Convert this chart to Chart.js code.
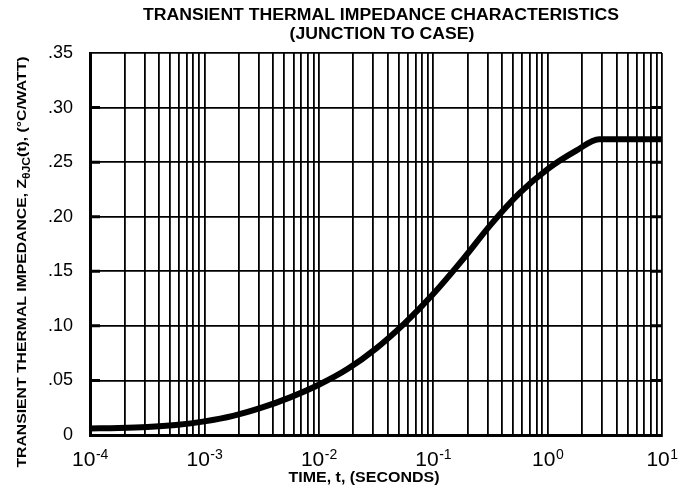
<!DOCTYPE html>
<html>
<head>
<meta charset="utf-8">
<script src="https://cdn.jsdelivr.net/npm/chart.js@4/dist/chart.umd.min.js"></script>
<style>
  html, body { margin: 0; padding: 0; background: #fff; }
  #wrap { width: 686px; height: 494px; position: relative; }
</style>
</head>
<body>
<div id="wrap"><canvas id="c" width="686" height="494"></canvas></div>
<script>
// ---- data ----
const timeSeconds = [1e-4, 1.78e-4, 3.16e-4, 5.62e-4, 1e-3, 1.78e-3, 3.16e-3, 5.62e-3, 1e-2, 1.78e-2, 3.16e-2, 5.62e-2, 0.1, 0.178, 0.316, 0.562, 1, 1.78, 2.82, 10];
const impedance   = [0.0060, 0.0064, 0.0073, 0.0092, 0.0125, 0.0175, 0.0250, 0.0345, 0.0460, 0.0604, 0.0792, 0.1023, 0.1292, 0.1598, 0.1923, 0.2211, 0.2436, 0.2605, 0.2710, 0.2710];
const xDecadeExponents = [-4, -3, -2, -1, 0, 1];
const gridMultipliers = [1, 2, 3, 4, 5, 6, 7, 8, 9];
const yTickValues = [0, 0.05, 0.10, 0.15, 0.20, 0.25, 0.30, 0.35];
const titleLines = ['TRANSIENT THERMAL IMPEDANCE CHARACTERISTICS', '(JUNCTION TO CASE)'];
const xTitle = 'TIME, t, (SECONDS)';
const yTitleParts = ['TRANSIENT THERMAL IMPEDANCE, Z', '\u03B8JC', '(t), (\u00B0C/WATT)'];

const FONT = '"Liberation Sans", Arial, Helvetica, sans-serif';

const points = timeSeconds.map((t, i) => ({ x: t, y: impedance[i] }));

const xGridValues = [];
xDecadeExponents.forEach(e => {
  if (e === xDecadeExponents[xDecadeExponents.length - 1]) { xGridValues.push(Math.pow(10, e)); return; }
  gridMultipliers.forEach(m => xGridValues.push(+(m * Math.pow(10, e)).toPrecision(6)));
});

function fitText(ctx, text, cx, y, font, width) {
  ctx.save();
  ctx.font = font;
  const w = ctx.measureText(text).width;
  const k = width / w;
  ctx.translate(cx, y);
  ctx.scale(k, 1);
  ctx.textAlign = 'center';
  ctx.fillText(text, 0, 0);
  ctx.restore();
  return k;
}

const labelPlugin = {
  id: 'labels',
  afterDatasetsDraw(chart) {
    // short heavy tick stubs at both ends of each horizontal grid line
    const ctx = chart.ctx;
    const ys = chart.scales.y;
    const ca = chart.chartArea;
    ctx.save();
    ctx.strokeStyle = '#000';
    ctx.lineWidth = 3;
    yTickValues.forEach(v => {
      if (v <= 0 || v >= 0.35) return;
      const py = ys.getPixelForValue(v);
      ctx.beginPath();
      ctx.moveTo(ca.left, py); ctx.lineTo(ca.left + 10, py);
      ctx.moveTo(ca.right - 12, py); ctx.lineTo(ca.right, py);
      ctx.stroke();
    });
    ctx.restore();
  },
  afterDraw(chart) {
    const ctx = chart.ctx;
    const xs = chart.scales.x;
    ctx.save();
    ctx.fillStyle = '#000';
    ctx.textBaseline = 'alphabetic';
    // x tick labels with superscript exponents
    xDecadeExponents.forEach(e => {
      const px = xs.getPixelForValue(Math.pow(10, e));
      ctx.font = '21px ' + FONT;
      const base = '10';
      const bw = ctx.measureText(base).width;
      ctx.font = '14px ' + FONT;
      const exp = String(e);
      const ew = ctx.measureText(exp).width;
      const start = px - (bw + ew) / 2;
      ctx.textAlign = 'left';
      ctx.font = '21px ' + FONT;
      ctx.fillText(base, start, 466);
      ctx.font = '14px ' + FONT;
      ctx.fillText(exp, start + bw + 0.5, 459);
    });
    // x axis title
    fitText(ctx, xTitle, 364, 482, 'bold 14px ' + FONT, 151);
    // main title
    ctx.font = 'bold 16px ' + FONT;
    const w1 = ctx.measureText(titleLines[0]).width;
    const k = 476 / w1;
    const w2 = ctx.measureText(titleLines[1]).width * k;
    fitText(ctx, titleLines[0], 381, 20, 'bold 16px ' + FONT, 476);
    fitText(ctx, titleLines[1], 382, 39, 'bold 16px ' + FONT, w2);
    // y axis title (rotated, with subscript)
    ctx.translate(22, 262);
    ctx.rotate(-Math.PI / 2);
    ctx.textAlign = 'left';
    const mainFont = 'bold 13px ' + FONT;
    const subFont = 'bold 10px ' + FONT;
    ctx.font = mainFont;
    const a0 = ctx.measureText(yTitleParts[0]).width;
    const a2 = ctx.measureText(yTitleParts[2]).width;
    ctx.font = subFont;
    const a1 = ctx.measureText(yTitleParts[1]).width;
    const total = a0 + a1 + a2;
    ctx.scale(411 / total, 1);
    const x0 = -total / 2;
    ctx.font = mainFont;
    ctx.fillText(yTitleParts[0], x0, 4);
    ctx.font = subFont;
    ctx.fillText(yTitleParts[1], x0 + a0, 8);
    ctx.font = mainFont;
    ctx.fillText(yTitleParts[2], x0 + a0 + a1, 4);
    ctx.restore();
  }
};

new Chart(document.getElementById('c'), {
  type: 'line',
  data: {
    datasets: [{
      data: points,
      borderColor: '#000',
      borderWidth: 6,
      pointRadius: 0,
      fill: false,
      cubicInterpolationMode: 'monotone',
      borderCapStyle: 'butt',
      borderJoinStyle: 'round'
    }]
  },
  options: {
    responsive: false,
    animation: false,
    devicePixelRatio: 1,
    layout: { padding: { top: 53, right: 24, bottom: 0, left: 0 } },
    plugins: { legend: { display: false }, title: { display: false }, tooltip: { enabled: false } },
    scales: {
      x: {
        type: 'logarithmic',
        min: 1e-4,
        max: 10,
        afterBuildTicks(scale) { scale.ticks = xGridValues.map(v => ({ value: v })); },
        afterFit(scale) { scale.height = 59; },
        ticks: { display: false, autoSkip: false },
        grid: { color: '#000', lineWidth: 1.8, drawTicks: false },
        border: { color: '#000', width: 3 }
      },
      y: {
        type: 'linear',
        min: 0,
        max: 0.35,
        afterBuildTicks(scale) { scale.ticks = yTickValues.map(v => ({ value: v })); },
        afterFit(scale) { scale.width = 90; },
        ticks: {
          color: '#000',
          font: { family: FONT, size: 18 },
          padding: 17,
          autoSkip: false,
          callback: v => (Math.abs(v) < 1e-9 ? '0' : '.' + String(Math.round(v * 100)).padStart(2, '0'))
        },
        grid: { color: '#000', lineWidth: 1.8, drawTicks: false },
        border: { color: '#000', width: 3 }
      }
    }
  },
  plugins: [labelPlugin]
});
</script>
</body>
</html>
